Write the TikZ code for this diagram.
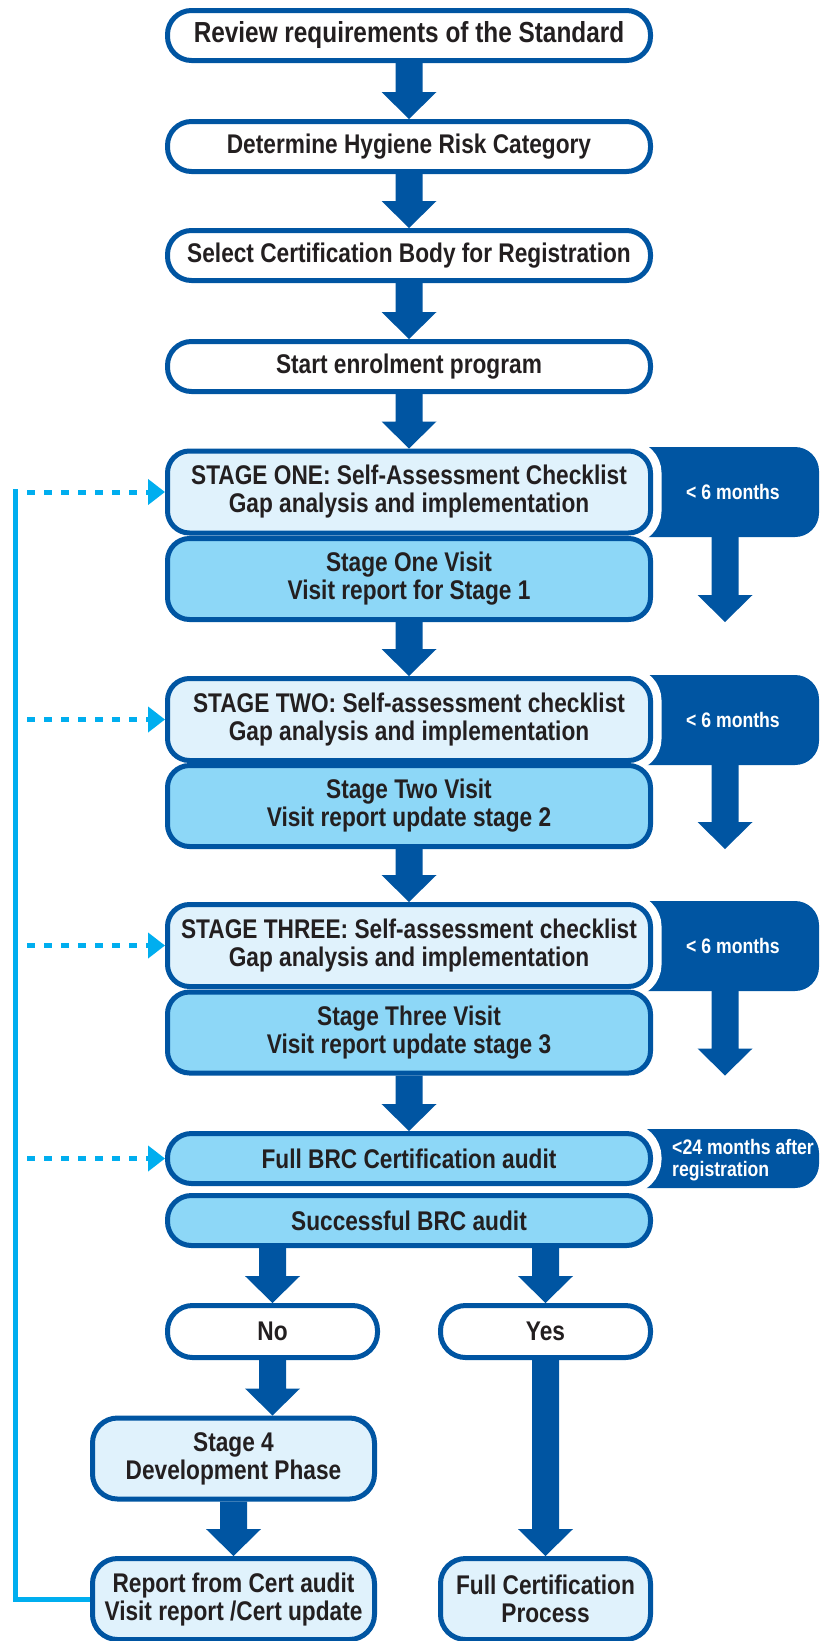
\documentclass[tikz,border=0pt]{standalone}
\usepackage{fontspec}
\setmainfont{Liberation Sans}[FakeStretch=0.84]
\usetikzlibrary{arrows.meta,calc}
\definecolor{dblue}{HTML}{0055A2}
\definecolor{lblue}{HTML}{00AEEF}
\definecolor{lightfill}{HTML}{E0F2FC}
\definecolor{midfill}{HTML}{8DD7F7}
\definecolor{txt}{HTML}{231F20}
\newcommand\mainfnt{\bfseries\fontsize{27}{28}\selectfont}
\newcommand\bigfnt{\bfseries\fontsize{29}{30}\selectfont}
\newcommand\tabfnt{\bfseries\fontsize{21}{22}\selectfont}
\newcommand\fatarrow[2]{%
  \fill[dblue] let \p1=(#1), \p2=(#2) in
    (\x1-13.5pt,\y1) -- (\x1+13.5pt,\y1) -- (\x1+13.5pt,\y2+27pt) --
    (\x1+27.5pt,\y2+27pt) -- (\x1,\y2) -- (\x1-27.5pt,\y2+27pt) --
    (\x1-13.5pt,\y2+27pt) -- cycle;}
\begin{document}
\begin{tikzpicture}[x=1pt,y=-1pt,
  box/.style={draw=dblue, line width=5pt, inner sep=0pt, align=center,
    font=\mainfnt, text=txt},
  pill/.style={box, fill=white, rounded corners=24pt, minimum width=483pt, minimum height=50pt},
  stagebox/.style={box, fill=lightfill, rounded corners=22pt, minimum width=483pt, minimum height=82pt,
    preaction={draw=white, line width=22pt}},
  visitbox/.style={box, fill=midfill, rounded corners=22pt, minimum width=483pt, minimum height=81pt},
  midpill/.style={box, fill=midfill, rounded corners=24pt, minimum width=483pt, minimum height=50pt},
  smallpill/.style={box, fill=white, rounded corners=25pt, minimum width=210pt, minimum height=52pt},
  lowbox/.style={box, fill=lightfill, rounded corners=25pt, minimum height=81pt},
  tabtext/.style={font=\tabfnt, text=white, inner sep=0pt},
  tabshape/.style={fill=dblue, rounded corners=24pt},
  feedback/.style={draw=lblue, line width=5pt},
  dotarrow/.style={draw=lblue, line width=5pt, dash pattern=on 8pt off 9pt,
    -{Triangle[length=17pt,width=25pt]}}
]
\useasboundingbox (0,0) rectangle (820,1641);

% side tabs
\fill[tabshape] (600,447) rectangle (819,537);
\fill[tabshape] (600,675) rectangle (819,765);
\fill[tabshape] (600,901) rectangle (819,991);
\fill[tabshape] (600,1129) rectangle (819,1188);
\coordinate (t1) at (725,537);
\coordinate (t2) at (725,765);
\coordinate (t3) at (725,991);

% top boxes
\node[pill, font=\bigfnt] (b1) at (409,35.5) {Review requirements of the Standard};
\node[pill] (b2) at (409,146.5) {Determine Hygiene Risk Category};
\node[pill] (b3) at (409,255.5) {Select Certification Body for Registration};
\node[pill] (b4) at (409,366.5) {Start enrolment program};

% stages
\node[stagebox] (s1) at (409,492) {STAGE ONE: Self-Assessment Checklist\\Gap analysis and implementation};
\node[visitbox] (v1) at (409,579) {Stage One Visit\\Visit report for Stage 1};
\node[stagebox] (s2) at (409,719.5) {STAGE TWO: Self-assessment checklist\\Gap analysis and implementation};
\node[visitbox] (v2) at (409,806) {Stage Two Visit\\Visit report update stage 2};
\node[stagebox] (s3) at (409,945.5) {STAGE THREE: Self-assessment checklist\\Gap analysis and implementation};
\node[visitbox] (v3) at (409,1032.5) {Stage Three Visit\\Visit report update stage 3};

\node[midpill, preaction={draw=white, line width=22pt}] (brc) at (409,1158.5) {Full BRC Certification audit};
\node[midpill] (succ) at (409,1220.5) {Successful BRC audit};

\node[smallpill] (no) at (272.5,1331.5) {No};
\node[smallpill] (yes) at (545.5,1331.5) {Yes};

\node[lowbox, minimum width=282pt] (st4) at (233.5,1458.5) {Stage 4\\Development Phase};
\node[lowbox, minimum width=282pt] (rep) at (233.5,1599) {Report from Cert audit\\Visit report /Cert update};
\node[lowbox, minimum width=210pt] (fc) at (545.5,1599) {Full Certification\\Process};

% tab texts
\node[tabtext] (l1) at (733,492) {< 6 months};
\node[tabtext] (l2) at (733,719.5) {< 6 months};
\node[tabtext] (l3) at (733,946) {< 6 months};
\node[tabtext, anchor=west, align=left] (l4) at (672,1160) {<24 months after\\registration};

% main arrows
\fatarrow{b1.south}{b2.north}
\fatarrow{b2.south}{b3.north}
\fatarrow{b3.south}{b4.north}
\fatarrow{b4.south}{s1.north}
\fatarrow{v1.south}{s2.north}
\fatarrow{v2.south}{s3.north}
\fatarrow{v3.south}{brc.north}
\fatarrow{no.north |- succ.south}{no.north}
\fatarrow{yes.north |- succ.south}{yes.north}
\fatarrow{no.south}{no.south |- st4.north}
\fatarrow{st4.south}{rep.north}
\fatarrow{yes.south}{fc.north}
\fatarrow{t1}{t1 |- v1.south}
\fatarrow{t2}{t2 |- v2.south}
\fatarrow{t3}{t3 |- v3.south}

% feedback loop
\coordinate (fbtop) at (15,489);
\coordinate (fbx) at (27,0);
\draw[feedback] (fbtop) |- (rep.west);
\draw[dotarrow] (fbx |- s1.west) -- (s1.west);
\draw[dotarrow] (fbx |- s2.west) -- (s2.west);
\draw[dotarrow] (fbx |- s3.west) -- (s3.west);
\draw[dotarrow] (fbx |- brc.west) -- (brc.west);
\end{tikzpicture}
\end{document}
